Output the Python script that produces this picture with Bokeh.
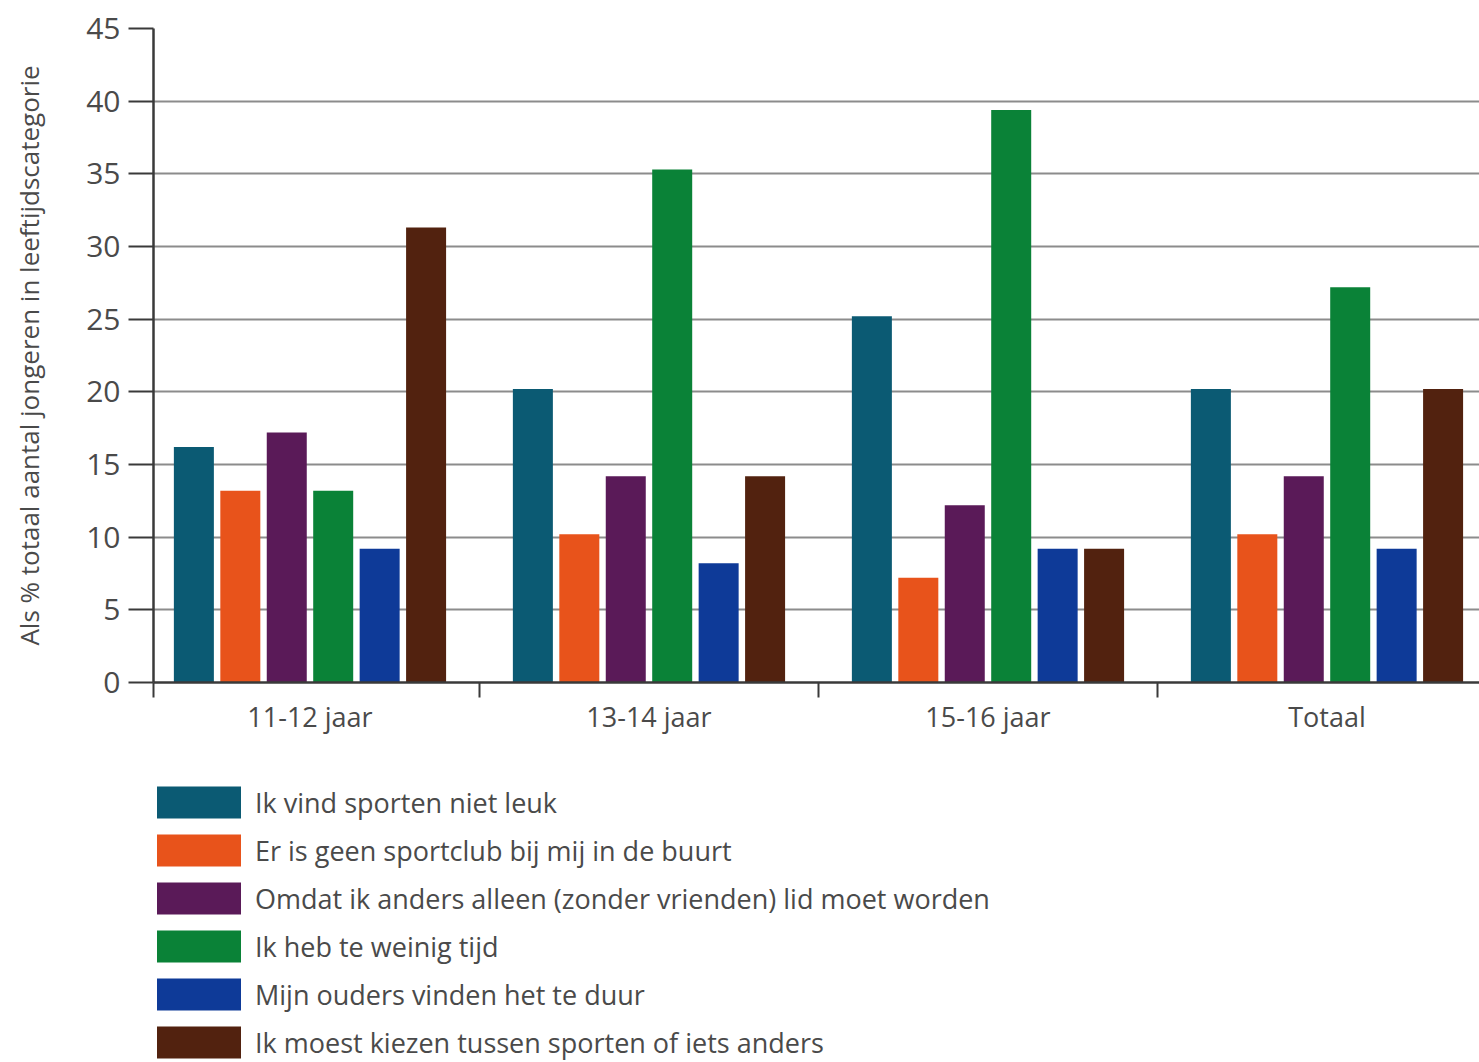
from bokeh.plotting import figure
from bokeh.models import FixedTicker, Legend, LegendItem, Range1d, ColumnDataSource
from bokeh.layouts import column
from bokeh.transform import dodge
from bokeh.embed import file_html
from bokeh.resources import INLINE

categories = ["11-12 jaar", "13-14 jaar", "15-16 jaar", "Totaal"]
series_names = [
    "Ik vind sporten niet leuk",
    "Er is geen sportclub bij mij in de buurt",
    "Omdat ik anders alleen (zonder vrienden) lid moet worden",
    "Ik heb te weinig tijd",
    "Mijn ouders vinden het te duur",
    "Ik moest kiezen tussen sporten of iets anders",
]
niet_leuk = [16.2, 20.2, 25.2, 20.2]
geen_club = [13.2, 10.2, 7.2, 10.2]
alleen = [17.2, 14.2, 12.2, 14.2]
weinig_tijd = [13.2, 35.3, 39.4, 27.2]
te_duur = [9.2, 8.2, 9.2, 9.2]
kiezen = [31.3, 14.2, 9.2, 20.2]
y_ticks = [0, 5, 10, 15, 20, 25, 30, 35, 40, 45]
y_title = "Als % totaal aantal jongeren in leeftijdscategorie"

colors = ["#0b5a73", "#e8531b", "#5a1a58", "#0a8237", "#0e3a98", "#52220f"]
series_values = [niet_leuk, geen_club, alleen, weinig_tijd, te_duur, kiezen]

FONT = "Open Sans"
TXT = "#4a4a4a"
DARK = "#3a3a3a"

cat_pos = [i + 0.5 for i in range(len(categories))]
data = {"x": cat_pos}
for i, vals in enumerate(series_values):
    data[f"s{i}"] = vals
source = ColumnDataSource(data)

W, H = 1479, 1062
LEFT, TOP = 153, 28
FRAME_H = 654
H1 = 745
x0 = 0.0384
x1 = x0 + (W - LEFT) / 339.0

p = figure(width=W, height=H1, x_range=Range1d(x0, x1), y_range=Range1d(0, 45),
           output_backend="svg", toolbar_location=None,
           min_border_left=LEFT, min_border_right=0, min_border_top=TOP,
           min_border_bottom=H1 - TOP - FRAME_H)
p.outline_line_color = None
p.background_fill_color = "white"

pitch = 0.137
bw = 0.118
for i, name in enumerate(series_names):
    p.vbar(x=dodge("x", (i - 2.5) * pitch, range=p.x_range), top=f"s{i}", width=bw,
           source=source, fill_color=colors[i], line_color=None)

# grid
p.xgrid.grid_line_color = None
p.ygrid.grid_line_color = "#8c8c8c"
p.ygrid.grid_line_width = 2
p.ygrid.ticker = FixedTicker(ticks=y_ticks)

# y axis
ya = p.yaxis[0]
ya.ticker = FixedTicker(ticks=y_ticks)
ya.axis_line_color = DARK
ya.axis_line_width = 2.5
ya.major_tick_line_color = DARK
ya.major_tick_line_width = 2
ya.major_tick_out = 25
ya.major_tick_in = 0
ya.minor_tick_line_color = None
ya.major_label_text_font = FONT
ya.major_label_text_font_size = "30px"
ya.major_label_text_color = TXT
ya.major_label_standoff = 8
ya.axis_label = y_title
ya.axis_label_text_font = FONT
ya.axis_label_text_font_size = "26px"
ya.axis_label_text_font_style = "normal"
ya.axis_label_text_color = TXT
ya.axis_label_standoff = 36

# x axis
xa = p.xaxis[0]
xa.ticker = FixedTicker(ticks=cat_pos, minor_ticks=[x0, 1, 2, 3])
xa.major_label_overrides = {pos: lab for pos, lab in zip(cat_pos, categories)}
xa.axis_line_color = DARK
xa.axis_line_width = 2.5
xa.major_tick_line_color = None
xa.major_tick_out = 0
xa.major_tick_in = 0
xa.minor_tick_line_color = DARK
xa.minor_tick_line_width = 2
xa.minor_tick_out = 15
xa.minor_tick_in = 0
xa.major_label_text_font = FONT
xa.major_label_text_font_size = "27px"
xa.major_label_text_color = TXT
xa.major_label_standoff = 0

# legend panel underneath the chart (proxy bars lie outside its ranges)
H2 = H - H1
pl = figure(width=W, height=H2, output_backend="svg", toolbar_location=None,
            x_range=Range1d(-2, -1), y_range=Range1d(0, 1),
            x_axis_type=None, y_axis_type=None,
            min_border_left=0, min_border_right=0, min_border_top=0, min_border_bottom=0)
pl.outline_line_color = None
pl.xgrid.grid_line_color = None
pl.ygrid.grid_line_color = None
items = []
for i, name in enumerate(series_names):
    r = pl.vbar(x=dodge("x", (i - 2.5) * pitch, range=pl.x_range), top=f"s{i}", width=bw,
                source=source, fill_color=colors[i], line_color=None)
    items.append(LegendItem(label=name, renderers=[r]))

legend = Legend(items=items, location=(-7, 0))
legend.orientation = "vertical"
legend.background_fill_alpha = 0
legend.border_line_color = None
legend.padding = 0
legend.margin = 0
legend.glyph_width = 105
legend.glyph_height = 40
legend.label_height = 33
legend.spacing = 8
legend.label_standoff = 4
legend.label_text_font = FONT
legend.label_text_font_size = "27px"
legend.label_text_color = TXT
legend.label_text_baseline = "middle"
pl.add_layout(legend)

layout = column(p, pl, spacing=0)
open("out.html", "w").write(file_html(layout, INLINE))
